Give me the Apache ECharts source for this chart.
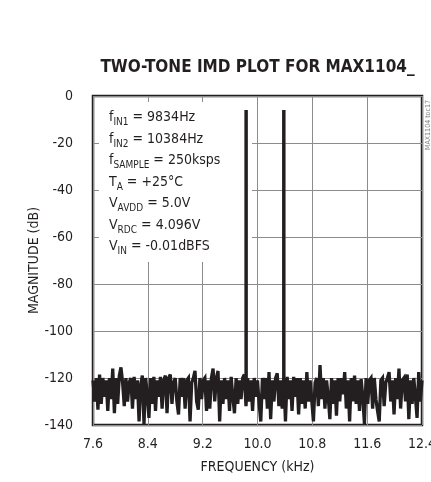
<!DOCTYPE html>
<html>
<head>
<meta charset="utf-8">
<script src="https://cdn.jsdelivr.net/npm/echarts@6/dist/echarts.min.js"></script>
<style>
html,body{margin:0;padding:0;background:#fff;}
#chart{width:431px;height:482px;}
</style>
</head>
<body>
<div id="chart"></div>
<script>
// ---- data ----
const xTickLabels = ['7.6', '8.4', '9.2', '10.0', '10.8', '11.6', '12.4'];
const xMinKHz = 7.6;
const xMaxKHz = 12.4;
const yMinDb = -140;
const yMaxDb = 0;

// two tones (kHz, dB)
const toneFreqKHz = [9.834, 10.384];
const toneLevelDb = [-6, -6];
const toneBaseDb = [-128, -128];

// noise floor: uniform bins from 7.6 kHz, 0.024 kHz apart
const noiseStartKHz = 7.6;
const binStepKHz = 0.024;
const noiseDb = [
  -121,-130,-120,-133.5,-118.5,-131,-120,-128,-121,-134,
  -120,-129,-116,-135,-120,-131,-119,-115.5,-122,-132,
  -120,-130,-122,-120,-133,-119.5,-129,-121,-138.5,-123,
  -119,-139.5,-120,-127,-137,-120,-131,-119.5,-134,-121,
  -128,-119.5,-133,-121,-119,-135,-120,-118.5,-131,-122,
  -120,-130,-135.5,-120,-128,-120,-133,-121,-120,-138.5,
  -122,-120,-117,-130,-133.5,-120,-129,-121,-120,-134,
  -121,-133,-120,-116,-130,-120,-117,-138.5,-121,-131,
  -120,-129,-121,-134,-119.5,-128,-135,-120,-131,-121,
  -129,-120,-118.5,-132,-120,-130,-121,-134,-120,-128,
  -121,-131,-138.5,-120,-129,-120,-133,-117.5,-137.5,-121,
  -130,-120,-118,-132,-121,-133,-120,-138.5,-119.5,-129,
  -121,-134,-119.5,-128,-120,-135.5,-120,-131,-121,-133,
  -117.5,-130,-121,-121.5,-138.5,-122,-120,-132,-114.5,-129,
  -120,-133,-121,-128,-137.5,-120,-131,-121,-136,-120,
  -130,-120,-127,-117.5,-133,-121,-138.5,-120,-130,-119,
  -131,-121,-134,-120.5,-128,-139.5,-120,-131,-121,-120,
  -133,-120,-129,-134,-138.5,-121,-120,-132,-122,-120,
  -117.5,-130,-121,-135.5,-120,-129,-116,-133,-121,-120,
  -130,-118.5,-137.5,-121,-131,-120,-128,-137,-117.5,-130,-121
];

const annoLines = [
  ['f', 'IN1', ' = 9834Hz'],
  ['f', 'IN2', ' = 10384Hz'],
  ['f', 'SAMPLE', ' = 250ksps'],
  ['T', 'A', ' = +25°C'],
  ['V', 'AVDD', ' = 5.0V'],
  ['V', 'RDC', ' = 4.096V'],
  ['V', 'IN', ' = -0.01dBFS']
];
const titleText = 'TWO-TONE IMD PLOT FOR MAX1104_';
const xName = 'FREQUENCY (kHz)';
const yName = 'MAGNITUDE (dB)';
const figId = 'MAX1104 toc17';

// ---- chart ----
const FONT = "'DejaVu Sans Condensed','Liberation Sans Narrow',sans-serif";
const INK = '#231f20';
const GRIDC = '#8c8c8c';
const FS = 14;

const chart = echarts.init(document.getElementById('chart'), null, {renderer: 'canvas'});

const noiseData = noiseDb.map((v, i) => [noiseStartKHz + i * binStepKHz, v]);

const series = [{
  type: 'line',
  xAxisIndex: 0,
  yAxisIndex: 0,
  data: noiseData,
  symbol: 'none',
  lineStyle: {color: INK, width: 3.3, join: 'miter', miterLimit: 4},
  z: 3,
  clip: true
}];
toneFreqKHz.forEach((f, k) => {
  series.push({
    type: 'line',
    xAxisIndex: 0,
    yAxisIndex: 0,
    data: [[f, toneBaseDb[k]], [f, toneLevelDb[k]]],
    symbol: 'none',
    lineStyle: {color: INK, width: 3.5, cap: 'butt'},
    z: 4
  });
});

const graphics = [
  {type: 'rect', z: 1, shape: {x: 99, y: 102, width: 153, height: 160}, style: {fill: '#ffffff'}},
  {type: 'text', z: 10, x: 257.5, y: 68,
   style: {text: titleText, fill: INK, font: "bold 17px 'DejaVu Sans Condensed',sans-serif", align: 'center', verticalAlign: 'middle'}},
  {type: 'text', z: 10, x: 428, y: 125, rotation: Math.PI / 2,
   style: {text: figId, fill: '#808080', font: "7px 'DejaVu Sans Condensed',sans-serif", align: 'center', verticalAlign: 'middle'}}
];
annoLines.forEach((ln, i) => {
  graphics.push({
    type: 'text', z: 10, x: 109, y: 117.5 + i * 21.5,
    style: {
      text: '{m|' + ln[0] + '}{s|' + ln[1] + '}{m|' + ln[2] + '}',
      verticalAlign: 'middle',
      align: 'left',
      rich: {
        m: {fontSize: FS, fontFamily: FONT, fill: INK, lineHeight: 20},
        s: {fontSize: 10, fontFamily: FONT, fill: INK, lineHeight: 9, verticalAlign: 'bottom'}
      }
    }
  });
});

const option = {
  animation: false,
  backgroundColor: '#ffffff',
  grid: {left: 93, right: 9, top: 96, bottom: 57, outerBoundsMode: 'none', containLabel: false,
         show: true, borderColor: INK, borderWidth: 2.5, backgroundColor: 'rgba(0,0,0,0)'},
  xAxis: [
    {type: 'value', min: xMinKHz, max: xMaxKHz, show: false},
    {type: 'value', min: 0, max: xTickLabels.length - 1, interval: 1, position: 'bottom',
     axisLine: {show: false}, axisTick: {show: false},
     splitLine: {show: true, lineStyle: {color: GRIDC, width: 1}},
     axisLabel: {formatter: v => xTickLabels[v], margin: 12, fontSize: FS, color: INK, fontFamily: FONT, hideOverlap: false},
     name: xName, nameLocation: 'middle', nameGap: 35, nameMoveOverlap: false,
     nameTextStyle: {fontSize: FS, color: INK, fontFamily: FONT}}
  ],
  yAxis: [{
    type: 'value', min: yMinDb, max: yMaxDb, interval: 20,
    axisLine: {show: false}, axisTick: {show: false},
    splitLine: {show: true, lineStyle: {color: GRIDC, width: 1}},
    axisLabel: {margin: 20, fontSize: FS, color: INK, fontFamily: FONT},
    name: yName, nameLocation: 'middle', nameGap: 52, nameRotate: 90, nameMoveOverlap: false,
    nameTextStyle: {fontSize: FS, color: INK, fontFamily: FONT}
  }],
  series: series,
  graphic: graphics
};
chart.setOption(option);
</script>
</body>
</html>
